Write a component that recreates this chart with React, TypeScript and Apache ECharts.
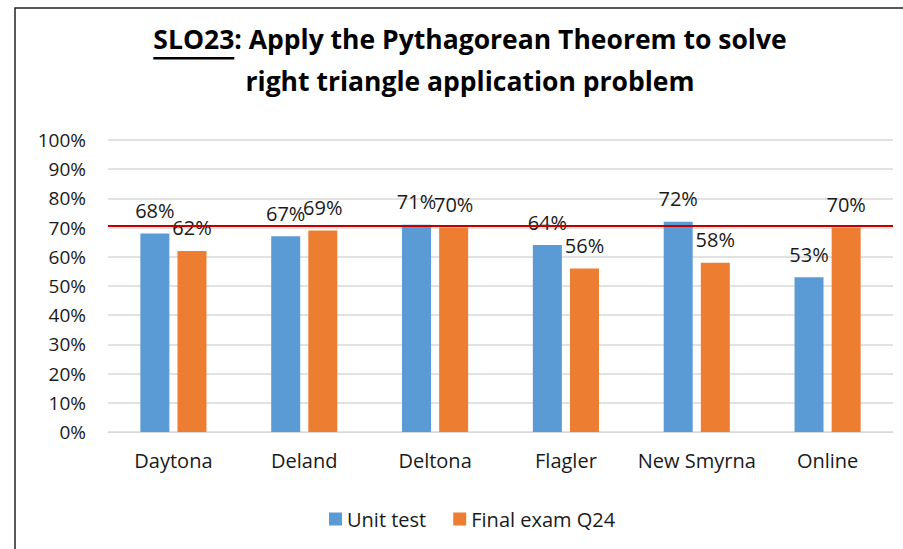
import React, { useEffect, useRef } from "react";
import * as echarts from "echarts";

const categories = ["Daytona", "Deland", "Deltona", "Flagler", "New Smyrna", "Online"];
const unitTest = [68, 67, 71, 64, 72, 53];
const finalExam = [62, 69, 70, 56, 58, 70];
const targetLine = 70.5;
const titleUnderlined = "SLO23";
const titleRest1 = ": Apply the Pythagorean Theorem to solve";
const titleLine2 = "right triangle application problem";

const FONT = "'Open Sans', 'Noto Sans', sans-serif";

function measure(text: string, font: string): number {
  const c = document.createElement("canvas").getContext("2d");
  if (!c) return text.length * 12;
  c.font = font;
  return c.measureText(text).width;
}

export default function App() {
  const ref = useRef<HTMLDivElement>(null);
  useEffect(() => {
    if (!ref.current) return;
    const chart = echarts.init(ref.current, undefined, { renderer: "svg" });
    const titleSize = 26.5;
    const tFont = `bold ${titleSize}px 'Open Sans'`;
    const w1 = measure(titleUnderlined, tFont);
    const w2 = measure(titleRest1, tFont);
    const cx = 470;
    const x0 = cx - (w1 + w2) / 2;
    const line1Y = 39;
    const line2Y = 81;
    const labelStyle = {
      show: true,
      position: "top" as const,
      distance: 13,
      formatter: "{c}%",
      fontSize: 20,
      color: "#1a1a1a",
      fontFamily: FONT,
    };
    chart.setOption({
      animation: false,
      textStyle: { fontFamily: FONT },
      grid: { left: 108, right: 10, top: 140, bottom: 117 },
      legend: {
        left: 324,
        top: 504,
        itemWidth: 13,
        itemHeight: 13,
        itemGap: 27,
        icon: "rect",
        textStyle: { fontSize: 20, color: "#1a1a1a", fontFamily: FONT },
        data: ["Unit test", "Final exam Q24"],
      },
      xAxis: {
        type: "category",
        data: categories,
        axisLine: { lineStyle: { color: "#d9d9d9", width: 1 } },
        axisTick: { show: false },
        axisLabel: { interval: 0, fontSize: 20, color: "#1a1a1a", margin: 18, fontFamily: FONT },
      },
      yAxis: {
        type: "value",
        min: 0,
        max: 100,
        interval: 10,
        axisLine: { show: false },
        axisTick: { show: false },
        splitLine: { lineStyle: { color: "#d9d9d9", width: 1.5 } },
        axisLabel: { formatter: "{value}%", fontSize: 19, color: "#1a1a1a", margin: 22, fontFamily: FONT },
      },
      series: [
        {
          name: "Unit test",
          type: "bar",
          data: unitTest,
          barWidth: 29,
          barGap: "28%",
          itemStyle: { color: "#5B9BD5" },
          label: labelStyle,
          markLine: {
            silent: true,
            symbol: "none",
            label: { show: false },
            lineStyle: { color: "#C00000", width: 2, type: "solid" },
            data: [{ yAxis: targetLine }],
          },
        },
        {
          name: "Final exam Q24",
          type: "bar",
          data: finalExam,
          barWidth: 29,
          itemStyle: { color: "#ED7D31" },
          label: labelStyle,
        },
      ],
      graphic: [
        {
          type: "rect",
          shape: { x: 15, y: 8, width: 1200, height: 1200 },
          style: { fill: "none", stroke: "#222", lineWidth: 1.5 },
          silent: true,
        },
        {
          type: "text",
          x: x0,
          y: line1Y,
          style: {
            text: titleUnderlined,
            font: tFont,
            fill: "#000",
            textAlign: "left",
            textVerticalAlign: "middle",
          },
        },
        {
          type: "rect",
          shape: { x: x0, y: 57, width: w1, height: 2.5 },
          style: { fill: "#000" },
        },
        {
          type: "text",
          x: x0 + w1,
          y: line1Y,
          style: {
            text: titleRest1,
            font: tFont,
            fill: "#000",
            textAlign: "left",
            textVerticalAlign: "middle",
          },
        },
        {
          type: "text",
          x: cx,
          y: line2Y,
          style: {
            text: titleLine2,
            font: tFont,
            fill: "#000",
            textAlign: "center",
            textVerticalAlign: "middle",
          },
        },
      ],
    });
    return () => chart.dispose();
  }, []);
  return (
    <div
      ref={ref}
      style={{ position: "fixed", left: 0, top: 0, width: 903, height: 549, background: "#fff" }}
    />
  );
}
